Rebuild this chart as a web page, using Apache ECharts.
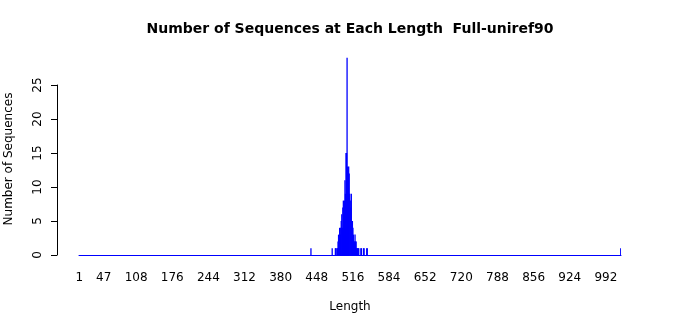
<!DOCTYPE html>
<html>
<head>
<meta charset="utf-8">
<script src="https://cdn.jsdelivr.net/npm/echarts@6/dist/echarts.min.js"></script>
<style>html,body{margin:0;padding:0;background:#fff;}#c{width:700px;height:315px;}</style>
</head>
<body>
<div id="c"></div>
<script>
// Sequence lengths 1..maxLength form the categories
var maxLength = 1020;
// Non-zero counts
var seqLengths = [437, 477, 483, 484, 486, 487, 488, 489, 490, 491, 492, 493, 494, 495, 496, 497, 498, 499, 500, 501, 502, 503, 504, 505, 506, 507, 508, 509, 510, 511, 512, 513, 514, 515, 516, 517, 518, 519, 520, 521, 522, 523, 524, 525, 526, 527, 531, 532, 536, 537, 542, 543, 1020];
var seqCounts  = [1,   1,   1,   1,   1,   1,   2,   3,   2,   4,   3,   4,   5,   6,   4,   7,   8,   6,   8,   11,  9,   15,  15,  29,  13,  12,  13,  12,  9,   8,   7,   9,   5,   5,   4,   3,   2,   2,   3,   2,   2,   1,   1,   1,   1,   1,   1,   1,   1,   1,   1,   1,   1];
var xTickLabels = ['1', '47', '108', '176', '244', '312', '380', '448', '516', '584', '652', '720', '788', '856', '924', '992'];
var yTicks = [0, 5, 10, 15, 20, 25];

var categories = [];
var values = [];
for (var i = 1; i <= maxLength; i++) { categories.push(String(i)); values.push(0); }
for (var k = 0; k < seqLengths.length; k++) { values[seqLengths[k] - 1] = seqCounts[k]; }
var labelSet = {};
xTickLabels.forEach(function (l) { labelSet[l] = true; });

var font = 'DejaVu Sans';
var chart = echarts.init(document.getElementById('c'), null, {renderer: 'canvas'});
chart.setOption({
  animation: false,
  backgroundColor: '#fff',
  title: {
    text: 'Number of Sequences at Each Length  Full-uniref90',
    left: 'center', top: 17,
    textStyle: {fontFamily: font, fontSize: 14, fontWeight: 'bold', color: '#000'}
  },
  grid: [
    {left: 57, right: 79, top: 85, bottom: 60, containLabel: false, outerBoundsMode: 'none'},
    {left: 79, right: 79, top: 51, bottom: 60, containLabel: false, outerBoundsMode: 'none'}
  ],
  xAxis: [
    {gridIndex: 0, type: 'value', show: false, min: 0, max: 1},
    {
      gridIndex: 1, type: 'category', data: categories,
      boundaryGap: true,
      axisLine: {show: true, lineStyle: {color: '#0000ff', width: 1}},
      axisTick: {show: false},
      axisLabel: {
        interval: function (idx, val) { return !!labelSet[val]; },
        margin: 17, fontFamily: font, fontSize: 12, color: '#000'
      },
      name: 'Length', nameLocation: 'middle', nameGap: 46,
      nameTextStyle: {fontFamily: font, fontSize: 12, color: '#000'},
      splitLine: {show: false}
    }
  ],
  yAxis: [
    {
      gridIndex: 0, type: 'value', min: yTicks[0], max: yTicks[yTicks.length - 1], interval: 5,
      axisLine: {show: true, lineStyle: {color: '#000', width: 1}},
      axisTick: {show: true, length: 6, lineStyle: {color: '#000'}},
      axisLabel: {rotate: 90, margin: 13, fontFamily: font, fontSize: 12, color: '#000'},
      splitLine: {show: false},
      name: 'Number of Sequences', nameLocation: 'middle', nameGap: 42,
      nameTextStyle: {fontFamily: font, fontSize: 12, color: '#000', padding: [0, 0, 0, 22]}
    },
    {gridIndex: 1, type: 'value', min: 0, max: 30, show: false, splitLine: {show: false}}
  ],
  series: [{
    type: 'bar', xAxisIndex: 1, yAxisIndex: 1,
    data: values, barWidth: 1.3,
    itemStyle: {color: '#0000ff'},
    emphasis: {disabled: true}
  }]
});
</script>
</body>
</html>
